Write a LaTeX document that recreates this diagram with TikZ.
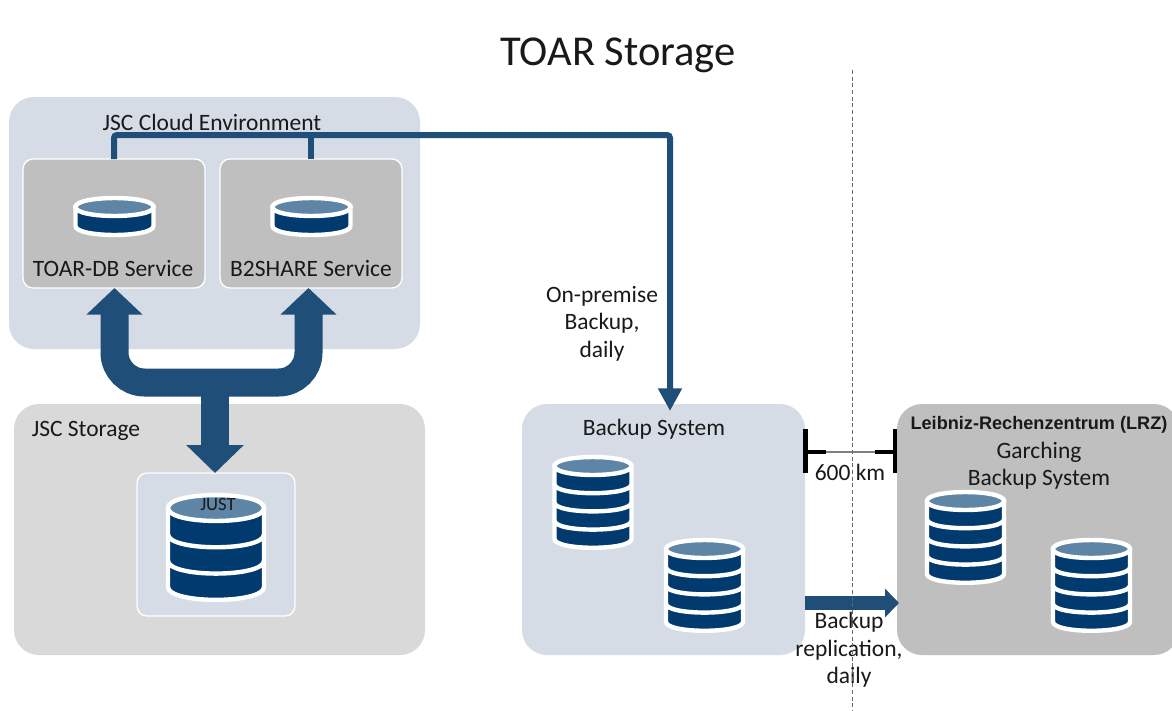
\documentclass[tikz,border=0pt]{standalone}
\usepackage{fontspec}
\setmainfont{Carlito}
\newfontfamily\lrzfont{Liberation Sans}
\usetikzlibrary{arrows.meta}
\definecolor{cloudcol}{HTML}{D5DCE6}
\definecolor{storecol}{HTML}{D9D9D9}
\definecolor{svccol}{HTML}{BFBFBF}
\definecolor{arrowcol}{HTML}{1F4E79}
\definecolor{diskcol}{HTML}{003A6E}
\definecolor{lidcol}{HTML}{5F85A6}
\newcommand{\px}{.75pt}
\tikzset{panel/.style={rounded corners=25*\px,inner sep=0,outer sep=0,text width=0}}
\tikzset{inset/.style={panel,rounded corners=10*\px,draw=white,line width=1pt}}
\tikzset{label/.style={inner sep=0,font=\fontsize{17.6}{20.6}\selectfont,align=center,text=black!90}}
\tikzset{thinline/.style={arrowcol,line width=6*\px}}
\tikzset{bigarrow/.style={arrowcol,line width=28*\px}}
\tikzset{measure/.style={black,line width=4.5*\px}}
% disk stack: half width, lid radius, bands, band height
\tikzset{pics/dbicon/.style n args={4}{code={
  \foreach \b in {#3,...,1} {
    \filldraw [diskcol,draw=white,line width=4.4*\px]
      (-#1,{#2+2+(\b-1)*#4}) -- (-#1,{#2+2+\b*#4})
      .. controls (-#1,{#2+2+\b*#4+1.33*#2}) and (#1,{#2+2+\b*#4+1.33*#2}) .. (#1,{#2+2+\b*#4})
      -- (#1,{#2+2+(\b-1)*#4}) -- cycle;
  }
  \filldraw [lidcol,draw=white,line width=4.4*\px]
    (-#1,{#2+2}) .. controls (-#1,{2+#2-1.33*#2}) and (#1,{2+#2-1.33*#2}) .. (#1,{#2+2})
    .. controls (#1,{2+#2+1.33*#2}) and (-#1,{2+#2+1.33*#2}) .. (-#1,{#2+2}) -- cycle;
}}}

\begin{document}
\begin{tikzpicture}[x=.75pt,y=-.75pt]
\clip (0,0) rectangle (1172,711);
\fill [white] (0,0) rectangle (1172,711);

\node [panel,fill=cloudcol,minimum width=411*\px,minimum height=252*\px] (cloud) at (214.5,223) {};
\node [panel,fill=storecol,minimum width=411*\px,minimum height=251*\px] (storage) at (219.5,529.5) {};
\node [panel,fill=cloudcol,minimum width=283*\px,minimum height=251*\px] (backup) at (663.5,529.5) {};
\node [panel,fill=svccol,minimum width=282*\px,minimum height=251*\px] (lrz) at (1038,529.5) {};
\node [inset,fill=svccol,minimum width=182*\px,minimum height=129*\px] (toarsvc) at (114,223.5) {};
\node [inset,fill=svccol,minimum width=182*\px,minimum height=129*\px] (sharesvc) at (311,223.5) {};
\node [inset,fill=cloudcol,minimum width=158*\px,minimum height=143*\px] (just) at (216,544.5) {};

\coordinate (top1) at (114,135);
\coordinate (top2) at (311,135);
\coordinate (backuptip) at (670,411);
\coordinate (u1) at (114.5,288);
\coordinate (u2) at (308.5,288);
\coordinate (ubase1) at (114.5,382.5);
\coordinate (ubase2) at (308.5,382.5);
\coordinate (umid) at (215,382.5);
\coordinate (justtip) at (215,473);
\coordinate (repl1) at (805,603);
\coordinate (repl2) at (899,603);
\coordinate (left) at (805.5,452);
\coordinate (right) at (895,452);
\coordinate (leftin) at (826,452);
\coordinate (rightin) at (875,452);
\coordinate (leftup) at (805.5,429);
\coordinate (leftdn) at (805.5,473);
\coordinate (rightup) at (895,429);
\coordinate (rightdn) at (895,473);

\draw [thinline,rounded corners=3*\px,-{Triangle[width=17pt,length=17pt]}] (toarsvc.north) -- (top1) -- (top2 -| backuptip) -- (backuptip);
\draw [thinline] (sharesvc.north) -- (top2);

\draw [bigarrow,rounded corners=30*\px,{Triangle[width=41pt,length=20pt]}-{Triangle[width=41pt,length=20pt]}] (u1) -- (ubase1) -- (ubase2) -- (u2);
\draw [bigarrow,-{Triangle[width=42pt,length=21pt]}] (umid) -- (justtip);
\draw [arrowcol,line width=13.5*\px,-{Triangle[width=21pt,length=10.5pt]}] (repl1) -- (repl2);

\pic at (114.5,196) {dbicon={39}{9}{1}{19}};
\pic at (311.5,196) {dbicon={39}{9}{1}{19}};
\pic at (216,493) {dbicon={48}{13}{3}{26.3}};
\pic at (593,455) {dbicon={38.5}{9}{4}{18.2}};
\pic at (704.5,538) {dbicon={38.5}{9}{4}{18.2}};
\pic at (965.5,490) {dbicon={38.5}{9}{4}{18.2}};
\pic at (1091.5,538) {dbicon={38.5}{9}{4}{18.2}};

\draw [black!50,line width=.8pt] (left) -- (right);
\draw [measure] (left) -- (leftin);
\draw [measure] (right) -- (rightin);
\draw [measure] (leftup) -- (leftdn);
\draw [measure] (rightup) -- (rightdn);

\node [label,font=\fontsize{31.9}{38}\selectfont] (title) at (618,55.5) {TOAR Storage};
\node [label] (cloudlabel) at (212,122) {JSC Cloud Environment};
\node [label] (toarlabel) at (113,269) {TOAR-DB Service};
\node [label] (sharelabel) at (311,269) {B2SHARE Service};
\node [label] (storagelabel) at (86,430.5) {JSC Storage};
\node [label,font=\fontsize{14}{16}\selectfont] (justlabel) at (218,505) {JUST};
\node [label] (dailylabel) at (602,323.5) {On-premise\\Backup,\\daily};
\node [label] (backuplabel) at (654,429.5) {Backup System};
\node [label,font=\lrzfont\bfseries\fontsize{13.6}{15}\selectfont] (lrzname) at (1039,425) {Leibniz-Rechenzentrum (LRZ)};
\node [label] (lrzlabel) at (1039,466) {Garching\\Backup System};
\node [label] (distlabel) at (850,472) {600 km};
\node [label] (repllabel) at (849,650) {Backup\\replication,\\daily};

\coordinate (bordertop) at (852,70);
\coordinate (borderbot) at (852,711);
\draw [black!60,line width=.75pt,dash pattern=on 3pt off 2pt] (bordertop) -- (borderbot);
\end{tikzpicture}
\end{document}
